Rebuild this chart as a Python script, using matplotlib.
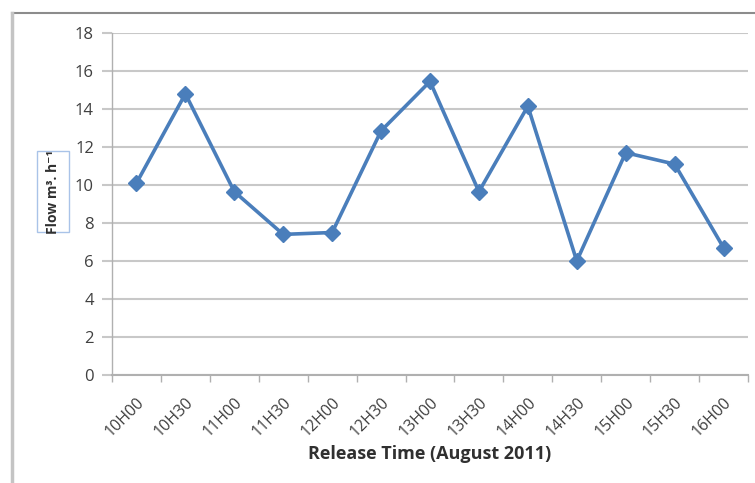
import numpy as np
import matplotlib
matplotlib.use('Agg')
import matplotlib.pyplot as plt
from matplotlib.patches import Rectangle
from matplotlib.lines import Line2D

# Release times and measured flow (m3/h)
times = ['10H00', '10H30', '11H00', '11H30', '12H00', '12H30', '13H00',
         '13H30', '14H00', '14H30', '15H00', '15H30', '16H00']
flow = [10.1, 14.8, 9.65, 7.4, 7.5, 12.85, 15.45,
        9.65, 14.15, 6.0, 11.7, 11.1, 6.7]
y_ticks = [0, 2, 4, 6, 8, 10, 12, 14, 16, 18]

plt.rcParams['font.family'] = ['Open Sans', 'DejaVu Sans']

W, H = 755, 483
fig = plt.figure(figsize=(W / 100, H / 100), dpi=100)

# outer chart frame: darker top edge, light left edge
fig.add_artist(Line2D([12 / W, 1], [1 - 13 / H, 1 - 13 / H],
                      transform=fig.transFigure, color='#8c8c8c', linewidth=1.5))
fig.add_artist(Line2D([12 / W, 12 / W], [1 - 13 / H, 1 - 481 / H],
                      transform=fig.transFigure, color='#c4c4c4', linewidth=2.5))

ax = fig.add_axes([112 / W, 1 - 375 / H, (748 - 112) / W, (375 - 33) / H])

x = np.arange(len(times))
ax.plot(x, flow, color='#4a7ebb', linewidth=2.6, marker='D', markersize=8,
        markerfacecolor='#4a7ebb', markeredgecolor='#4a7ebb', clip_on=False)

ax.set_xlim(-0.5, len(times) - 0.5)
ax.set_ylim(0, 18)
ax.set_yticks(y_ticks)
ax.set_yticklabels([str(v) for v in y_ticks], fontsize=12, color='#404040')
ax.set_xticks(x)
ax.set_xticklabels(times, rotation=45, ha='right', rotation_mode='anchor',
                   fontsize=11.5, color='#404040')
ax.set_xticks(np.arange(len(times) + 1) - 0.5, minor=True)
ax.tick_params(axis='x', which='major', length=0, pad=14)
ax.tick_params(axis='x', which='minor', length=5, color='#b0b0b0', width=1)
ax.tick_params(axis='y', length=7, color='#c8c8c8', width=1.5, pad=6)

ax.grid(axis='y', color='#c8c8c8', linewidth=1.5)
ax.set_axisbelow(True)
for s in ['top', 'right']:
    ax.spines[s].set_visible(False)
ax.spines['left'].set_color('#b0b0b0')
ax.spines['bottom'].set_color('#b0b0b0')
ax.spines['left'].set_linewidth(1)
ax.spines['bottom'].set_linewidth(1.5)

ax.set_xlabel('Release Time (August 2011)', fontsize=13, fontweight='bold',
              color='#303030', labelpad=4)

# y label in a small bordered box
fig.add_artist(Rectangle((37 / W, 1 - 232 / H), 32 / W, (232 - 151) / H,
                         transform=fig.transFigure, facecolor='white',
                         edgecolor='#a9c3e8', linewidth=1))
fig.text(53 / W, 1 - 192 / H, 'Flow m³. h⁻¹', rotation=90,
         ha='center', va='center', fontsize=10, fontweight='bold',
         color='#303030')

fig.savefig('out.png', dpi=100)
